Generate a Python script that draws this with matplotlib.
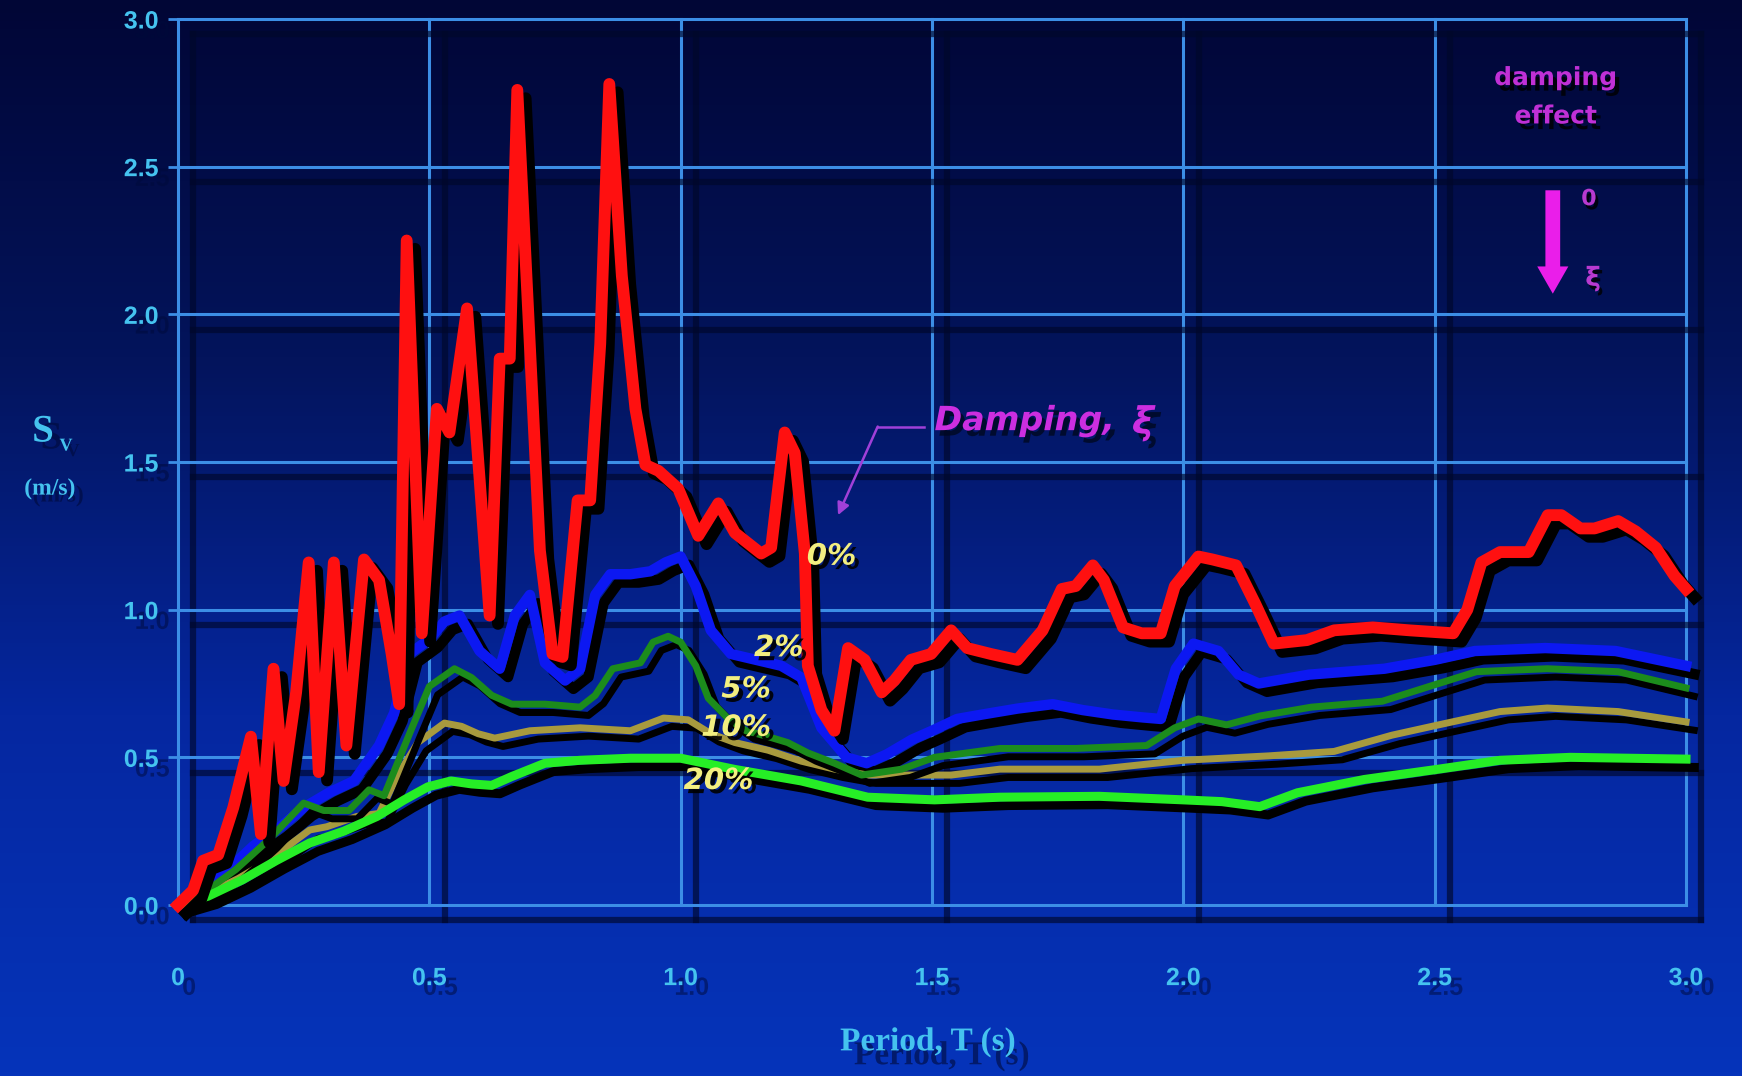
import numpy as np
import matplotlib
matplotlib.use("Agg")
import matplotlib.pyplot as plt
import matplotlib.patheffects as pe
from matplotlib.colors import LinearSegmentedColormap

# ---- response spectra: pseudo-velocity Sv (m/s) against period T (s) ----
period_0 = [0.00, 0.03, 0.05, 0.08, 0.11, 0.145, 0.165, 0.19, 0.21, 0.235, 0.26, 0.28, 0.31, 0.335,
            0.37, 0.40, 0.425, 0.44, 0.455, 0.485, 0.515, 0.54, 0.575, 0.62, 0.64, 0.66, 0.675, 0.72,
            0.745, 0.765, 0.795, 0.82, 0.84, 0.858, 0.883, 0.91, 0.93, 0.956, 0.995, 1.035, 1.075,
            1.108, 1.16, 1.18, 1.207, 1.227, 1.247, 1.253, 1.28, 1.306, 1.333, 1.366, 1.40, 1.425,
            1.458, 1.498, 1.538, 1.57, 1.617, 1.67, 1.72, 1.758, 1.786, 1.82, 1.842, 1.88, 1.917,
            1.955, 1.983, 2.03, 2.058, 2.105, 2.143, 2.18, 2.246, 2.30, 2.377, 2.45, 2.537, 2.565,
            2.593, 2.63, 2.687, 2.725, 2.752, 2.79, 2.818, 2.865, 2.90, 2.94, 2.977, 3.0]
sv_0 = [0.00, 0.05, 0.15, 0.17, 0.33, 0.57, 0.24, 0.80, 0.42, 0.72, 1.16, 0.45, 1.16, 0.54,
        1.17, 1.10, 0.85, 0.68, 2.25, 0.92, 1.68, 1.60, 2.02, 0.98, 1.85, 1.85, 2.76, 1.20,
        0.85, 0.84, 1.37, 1.37, 1.90, 2.78, 2.13, 1.68, 1.49, 1.47, 1.41, 1.25, 1.36,
        1.26, 1.19, 1.21, 1.60, 1.53, 1.19, 0.81, 0.66, 0.59, 0.87, 0.83, 0.72, 0.76,
        0.83, 0.85, 0.93, 0.87, 0.85, 0.83, 0.93, 1.07, 1.08, 1.15, 1.10, 0.94, 0.92,
        0.92, 1.08, 1.18, 1.17, 1.15, 1.02, 0.885, 0.897, 0.93, 0.94, 0.93, 0.92, 1.0,
        1.16, 1.195, 1.195, 1.32, 1.32, 1.275, 1.275, 1.30, 1.265, 1.21, 1.115, 1.07]

period_2 = [0.00, 0.03, 0.06, 0.10, 0.15, 0.20, 0.25, 0.30, 0.35, 0.40, 0.43, 0.46, 0.50, 0.53, 0.56,
            0.60, 0.64, 0.67, 0.70, 0.73, 0.77, 0.80, 0.83, 0.86, 0.90, 0.94, 0.97, 1.00, 1.03, 1.06,
            1.10, 1.15, 1.20, 1.24, 1.28, 1.33, 1.37, 1.41, 1.46, 1.50, 1.55, 1.60, 1.67, 1.74, 1.80,
            1.86, 1.92, 1.955, 1.985, 2.02, 2.07, 2.11, 2.15, 2.25, 2.40, 2.50, 2.58, 2.72, 2.86, 3.00]
sv_2 = [0.00, 0.03, 0.07, 0.12, 0.20, 0.26, 0.33, 0.38, 0.42, 0.54, 0.65, 0.85, 0.90, 0.96, 0.98,
        0.86, 0.80, 0.98, 1.05, 0.82, 0.76, 0.80, 1.05, 1.12, 1.12, 1.13, 1.16, 1.18, 1.08, 0.93,
        0.85, 0.83, 0.81, 0.77, 0.60, 0.50, 0.48, 0.51, 0.56, 0.59, 0.63, 0.645, 0.665, 0.68, 0.66,
        0.645, 0.635, 0.63, 0.80, 0.885, 0.86, 0.78, 0.75, 0.78, 0.80, 0.83, 0.86, 0.87, 0.86, 0.81]

period_5 = [0.00, 0.05, 0.115, 0.18, 0.25, 0.29, 0.34, 0.38, 0.41, 0.463, 0.50, 0.55, 0.584, 0.624,
            0.664, 0.73, 0.80, 0.83, 0.865, 0.92, 0.945, 0.975, 1.00, 1.03, 1.055, 1.095, 1.13, 1.174,
            1.213, 1.253, 1.306, 1.36, 1.44, 1.505, 1.57, 1.635, 1.736, 1.786, 1.927, 1.983, 2.03,
            2.086, 2.152, 2.255, 2.396, 2.508, 2.583, 2.724, 2.865, 3.00]
sv_5 = [0.00, 0.04, 0.12, 0.22, 0.345, 0.32, 0.32, 0.39, 0.37, 0.59, 0.74, 0.80, 0.77, 0.71,
        0.68, 0.68, 0.67, 0.71, 0.80, 0.82, 0.89, 0.91, 0.89, 0.81, 0.70, 0.63, 0.59, 0.57,
        0.55, 0.515, 0.48, 0.44, 0.46, 0.50, 0.515, 0.53, 0.53, 0.53, 0.54, 0.60, 0.63,
        0.61, 0.64, 0.67, 0.69, 0.75, 0.79, 0.80, 0.79, 0.735]

period_10 = [0.00, 0.06, 0.12, 0.18, 0.235, 0.262, 0.296, 0.356, 0.40, 0.436, 0.477, 0.53, 0.564,
             0.597, 0.63, 0.70, 0.80, 0.90, 0.966, 1.015, 1.06, 1.108, 1.174, 1.24, 1.306, 1.372,
             1.44, 1.538, 1.635, 1.736, 1.833, 2.00, 2.17, 2.30, 2.415, 2.508, 2.63, 2.724, 2.865, 3.00]
sv_10 = [0.00, 0.04, 0.09, 0.15, 0.22, 0.254, 0.265, 0.30, 0.31, 0.435, 0.55, 0.616, 0.605,
         0.58, 0.565, 0.59, 0.60, 0.59, 0.633, 0.627, 0.58, 0.55, 0.524, 0.487, 0.46, 0.44,
         0.44, 0.44, 0.46, 0.46, 0.46, 0.49, 0.505, 0.52, 0.575, 0.61, 0.655, 0.667, 0.655, 0.62]

period_20 = [0.00, 0.06, 0.128, 0.195, 0.262, 0.33, 0.396, 0.45, 0.497, 0.543, 0.584, 0.624, 0.664,
             0.73, 0.80, 0.90, 1.00, 1.108, 1.24, 1.372, 1.505, 1.635, 1.833, 2.00, 2.077, 2.152,
             2.227, 2.36, 2.508, 2.63, 2.77, 3.00]
sv_20 = [0.00, 0.03, 0.085, 0.15, 0.21, 0.25, 0.30, 0.356, 0.40, 0.42, 0.41, 0.405, 0.435,
         0.48, 0.49, 0.497, 0.497, 0.459, 0.42, 0.365, 0.356, 0.365, 0.368, 0.356, 0.35, 0.333,
         0.38, 0.425, 0.46, 0.49, 0.50, 0.494]

x_ticks = [0.0, 0.5, 1.0, 1.5, 2.0, 2.5, 3.0]
x_tick_labels = ["0", "0.5", "1.0", "1.5", "2.0", "2.5", "3.0"]
y_ticks = [0.0, 0.5, 1.0, 1.5, 2.0, 2.5, 3.0]
y_tick_labels = ["0.0", "0.5", "1.0", "1.5", "2.0", "2.5", "3.0"]

damping_labels = ["0%", "2%", "5%", "10%", "20%"]
label_pos_x = [1.30, 1.195, 1.13, 1.11, 1.075]
label_pos_y = [1.18, 0.87, 0.73, 0.60, 0.42]

# ---- styling ----
W, H = 1742, 1076
CYAN = "#45c3ef"
GRID = "#3c8ee6"
MAGENTA = "#cc2ee0"
YELLOW = "#f3ef80"
SANS = ["Liberation Sans", "DejaVu Sans"]
WIDE = ["DejaVu Sans"]
SERIF = ["Liberation Serif", "DejaVu Serif"]


def fpx(x, y):
    """Pixel position (from top-left) -> figure fraction."""
    return x / W, 1 - y / H


def shadow(dx=3, dy=-3, color="black", alpha=0.9):
    return [pe.SimplePatchShadow(offset=(dx, dy), shadow_rgbFace=color, alpha=alpha), pe.Normal()]


fig = plt.figure(figsize=(W / 100, H / 100), dpi=100)

# gradient backdrop
bg = fig.add_axes([0, 0, 1, 1], zorder=-10)
grad = np.linspace(0, 1, 256).reshape(-1, 1)
cmap = LinearSegmentedColormap.from_list("slide", ["#010636", "#03145c", "#0527a0", "#0634ba"])
bg.imshow(grad, aspect="auto", cmap=cmap, extent=[0, 1, 0, 1], origin="upper")
bg.axis("off")

ax = fig.add_axes([178 / W, 1 - 905 / H, 1508 / W, 886 / H])
ax.set_facecolor("none")
ax.set_xlim(0, 3)
ax.set_ylim(0, 3)
for s in ax.spines.values():
    s.set_visible(False)

grid_fx = [pe.SimpleLineShadow(offset=(11, -11), shadow_color="#00072a", alpha=0.65, linewidth=4.5),
           pe.Normal()]
for v in x_ticks:
    ax.axvline(v, color=GRID, lw=2.2, zorder=1, clip_on=False, path_effects=grid_fx)
for v in y_ticks:
    ax.axhline(v, color=GRID, lw=2.2, zorder=1, clip_on=False, path_effects=grid_fx)

# spectra, heaviest damping underneath the undamped response
series = [
    (period_2, sv_2, "#0c18f2", 7.5, 3),
    (period_10, sv_10, "#a89a3e", 5.0, 4),
    (period_5, sv_5, "#1c8c1c", 5.0, 5),
    (period_20, sv_20, "#26ee26", 6.5, 6),
    (period_0, sv_0, "#ff1010", 8.5, 7),
]
for px, py, col, lw, z in series:
    ax.plot(px, py, color=col, lw=lw, zorder=z, clip_on=False, solid_joinstyle="round",
            path_effects=[pe.SimpleLineShadow(offset=(6, -6), shadow_color="black", alpha=1.0),
                          pe.Normal()])

# ticks
ax.set_xticks(x_ticks, x_tick_labels)
ax.set_yticks(y_ticks, y_tick_labels)
ax.tick_params(axis="x", length=0, pad=44, labelsize=18, labelcolor=CYAN)
ax.tick_params(axis="y", length=7, width=2, color=GRID, pad=7, labelsize=18, labelcolor=CYAN)
for lbl in ax.get_xticklabels() + ax.get_yticklabels():
    lbl.set_fontweight("bold")
    lbl.set_family(SANS)
    lbl.set_path_effects(shadow(8, -7, "#000a3a", 0.5))

# axis titles
fig.text(*fpx(43, 432), "S", fontsize=28, family=SERIF, weight="bold", color=CYAN,
         ha="center", va="center", path_effects=shadow(6, -5, "#000a3a", 0.6))
fig.text(*fpx(66, 446), "V", fontsize=13, family=SERIF, weight="bold", color=CYAN,
         ha="center", va="center", path_effects=shadow(5, -4, "#000a3a", 0.6))
fig.text(*fpx(50, 489), "(m/s)", fontsize=17, family=SERIF, weight="bold", color=CYAN,
         ha="center", va="center", path_effects=shadow(6, -5, "#000a3a", 0.6))
fig.text(*fpx(928, 1042), "Period, T (s)", fontsize=24, family=SERIF, weight="bold", color=CYAN,
         ha="center", va="center", path_effects=shadow(10, -10, "#000a3a", 0.6))

# damping labels on the curves
for txt, tx, ty in zip(damping_labels, label_pos_x, label_pos_y):
    ax.text(tx, ty, txt, fontsize=21, family=WIDE, weight="bold", style="italic", color=YELLOW,
            ha="center", va="center", zorder=9, path_effects=shadow(3, -3, "black", 0.9))

# "Damping, xi" callout with leader
ax.text(1.505, 1.64, "Damping,", fontsize=24, family=WIDE, weight="bold", style="italic",
        color=MAGENTA, ha="left", va="center", zorder=9, path_effects=shadow(3, -4, "#000820", 0.8))
ax.text(1.92, 1.63, "ξ", fontsize=27, family=WIDE, weight="bold", style="italic",
        color=MAGENTA, ha="center", va="center", zorder=9, path_effects=shadow(4, -5, "#000820", 0.8))
ax.plot([1.485, 1.392], [1.62, 1.62], color="#a040d8", lw=1.8, zorder=9)
ax.annotate("", xy=(1.313, 1.32), xytext=(1.392, 1.62), zorder=9,
            arrowprops=dict(arrowstyle="-|>", color="#a040d8", lw=1.8, mutation_scale=18,
                            shrinkA=0, shrinkB=0))

# "damping effect" key in the upper right
ax.text(2.741, 2.80, "damping", fontsize=18, family=WIDE, weight="bold", color="#c030d6",
        ha="center", va="center", zorder=9, path_effects=shadow(3, -4, "black", 0.8))
ax.text(2.741, 2.67, "effect", fontsize=18, family=WIDE, weight="bold", color="#c030d6",
        ha="center", va="center", zorder=9, path_effects=shadow(3, -4, "black", 0.8))
ax.annotate("", xy=(2.735, 2.07), xytext=(2.735, 2.42), zorder=9,
            arrowprops=dict(arrowstyle="simple,head_width=0.8,head_length=0.7,tail_width=0.38",
                            fc="#ea1eea", ec="none", mutation_scale=28, shrinkA=0, shrinkB=0))
ax.text(2.807, 2.39, "0", fontsize=16, family=WIDE, weight="bold", color="#b83ad0",
        ha="center", va="center", zorder=9, path_effects=shadow(2, -3, "black", 0.8))
ax.text(2.815, 2.12, "ξ", fontsize=19, family=WIDE, weight="bold", color="#b83ad0",
        ha="center", va="center", zorder=9, path_effects=shadow(2, -3, "black", 0.8))

fig.savefig("out.png", dpi=100)
